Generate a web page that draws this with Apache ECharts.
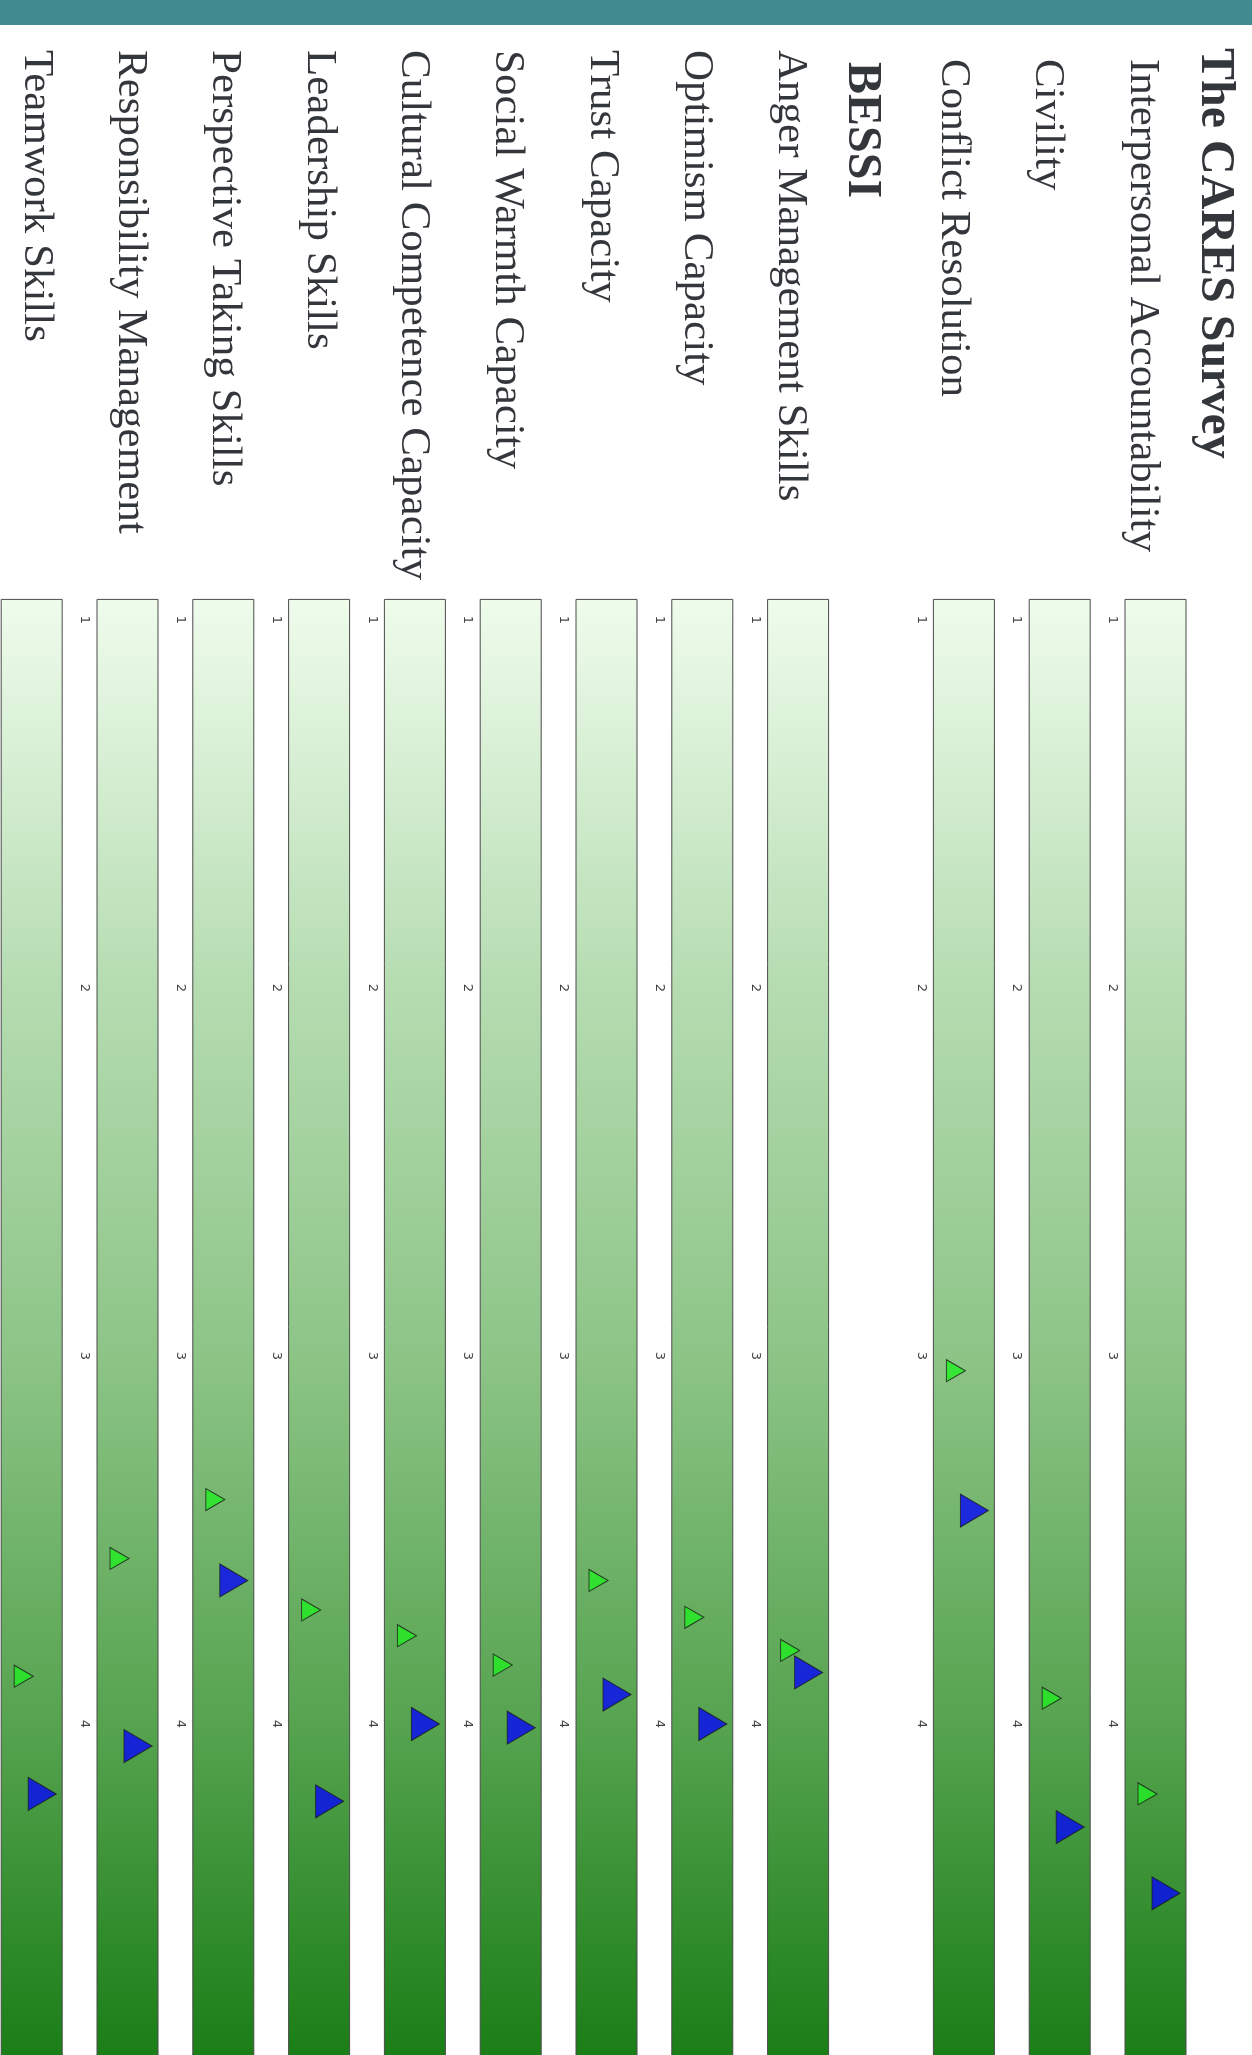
<!DOCTYPE html>
<html>
<head>
<meta charset="utf-8">
<title>CARES / BESSI skill profile</title>
<script src="https://cdn.jsdelivr.net/npm/echarts@6/dist/echarts.min.js"></script>
<style>
  html, body { margin: 0; padding: 0; background: #ffffff; }
  #chart { width: 1252px; height: 2055px; }
</style>
</head>
<body>
<div id="chart"></div>
<script>
// ---- data -------------------------------------------------------------
const groupTitles = ['The CARES Survey', 'BESSI'];

const caresSkills = ['Interpersonal Accountability', 'Civility', 'Conflict Resolution'];
const caresGreen  = [4.19, 3.93, 3.04];   // small green marker
const caresBlue   = [4.46, 4.28, 3.42];   // large blue marker

const bessiSkills = [
  'Anger Management Skills', 'Optimism Capacity', 'Trust Capacity',
  'Social Warmth Capacity', 'Cultural Competence Capacity', 'Leadership Skills',
  'Perspective Taking Skills', 'Responsibility Management', 'Teamwork Skills'
];
const bessiGreen = [3.80, 3.71, 3.61, 3.84, 3.76, 3.69, 3.39, 3.55, 3.87];
const bessiBlue  = [3.86, 4.00, 3.92, 4.01, 4.00, 4.21, 3.61, 4.06, 4.19];

const scaleMin = 1, scaleMax = 5, scaleStep = 1;
const trackStart = 0.944;            // the gradient track begins just before 1

// ---- layout (px) ------------------------------------------------------
const AXIS_TOP = 620;                // y of value 1
const UNIT = 368;                    // px per scale point
const BAR_W = 61;
const PITCH = 95.8;
const GROUP_GAP = 70;
const FIRST_LEFT = 1125;
const HEADER_CENTERS = [1214, 861];
const HEADER_TOPS = [48, 62];        // where each group heading starts
const ITEM_TOPS = [59, 50];          // where the skill names of each group start

const SERIF = "'Liberation Serif', 'DejaVu Serif', serif";

// rows, right (first) to left (last)
const rows = [];
let cursor = FIRST_LEFT;
[[caresSkills, caresGreen, caresBlue], [bessiSkills, bessiGreen, bessiBlue]].forEach((grp, g) => {
  if (g > 0) cursor -= GROUP_GAP;
  rows.push({ label: groupTitles[g], header: true, group: g, left: HEADER_CENTERS[g] - BAR_W / 2 });
  grp[0].forEach((name, i) => {
    rows.push({ label: name, header: false, group: g, left: cursor, green: grp[1][i], blue: grp[2][i] });
    cursor -= PITCH;
  });
});

// the text column runs on a slightly tighter pitch than the tracks
function labelX(r) {
  if (r.header) return r.left + BAR_W / 2;
  const c = r.left + BAR_W / 2;
  return 36 + (c - 31.5) * 0.984;
}

const trackFill = new echarts.graphic.LinearGradient(0, 0, 0, 1, [
  { offset: 0,    color: '#effcec' },
  { offset: 0.26, color: '#b5dcb1' },
  { offset: 0.51, color: '#8cc486' },
  { offset: 0.76, color: '#54a24e' },
  { offset: 1,    color: '#147a10' }
]);

const grid = [], xAxis = [], yAxis = [], series = [], graphic = [];

graphic.push({
  type: 'rect', x: 0, y: 0, silent: true,
  shape: { width: 1252, height: 25 },
  style: { fill: '#408b90' }
});

rows.forEach((r) => {
  graphic.push({
    type: 'text', silent: true,
    x: labelX(r), y: r.header ? HEADER_TOPS[r.group] : ITEM_TOPS[r.group],
    rotation: -Math.PI / 2,
    style: {
      text: r.label,
      fontFamily: SERIF, fontSize: r.header ? 48 : 43,
      fontWeight: r.header ? 'bold' : 'normal',
      fill: '#33363a',
      align: 'left', verticalAlign: 'middle',
      textAlign: 'left', textVerticalAlign: 'middle'
    }
  });
  if (r.header) return;

  const gi = grid.length;
  grid.push({
    left: r.left, top: AXIS_TOP, width: BAR_W, height: UNIT * (scaleMax - scaleMin),
    containLabel: false, outerBoundsMode: 'none'
  });
  xAxis.push({
    gridIndex: gi, type: 'category', data: [r.label], show: false
  });
  yAxis.push({
    gridIndex: gi, type: 'value', inverse: true,
    min: scaleMin, max: scaleMax, interval: scaleStep,
    axisLine: { show: false }, axisTick: { show: false }, splitLine: { show: false },
    axisLabel: {
      rotate: -90, align: 'center', verticalAlign: 'middle', margin: 12.5,
      fontFamily: "'DejaVu Sans', sans-serif", fontSize: 13, color: '#444444',
      showMaxLabel: false
    }
  });

  series.push({
    type: 'custom', xAxisIndex: gi, yAxisIndex: gi, z: 1, silent: true, clip: false,
    data: [[0, trackStart, scaleMax]],
    encode: { x: 0, y: [1, 2] },
    renderItem(params, api) {
      const a = api.coord([api.value(0), api.value(1)]);
      const b = api.coord([api.value(0), api.value(2)]);
      return {
        type: 'rect',
        shape: { x: a[0] - BAR_W / 2, y: a[1], width: BAR_W, height: b[1] - a[1] },
        style: { fill: trackFill, stroke: '#4a4a4a', lineWidth: 1 }
      };
    }
  });
  series.push({
    type: 'scatter', xAxisIndex: gi, yAxisIndex: gi, z: 3, silent: true,
    data: [[0, r.green]],
    symbol: 'triangle', symbolSize: [22, 19], symbolRotate: -90, symbolOffset: [-8, 0],
    itemStyle: { color: '#22ee22', borderColor: '#1a1a1a', borderWidth: 1 }
  });
  series.push({
    type: 'scatter', xAxisIndex: gi, yAxisIndex: gi, z: 4, silent: true,
    data: [[0, r.blue]],
    symbol: 'triangle', symbolSize: [33, 28], symbolRotate: -90, symbolOffset: [10.5, 0],
    itemStyle: { color: '#0606f8', borderColor: '#1a1a1a', borderWidth: 1 }
  });
});

const chart = echarts.init(document.getElementById('chart'), null, { renderer: 'canvas' });
chart.setOption({
  animation: false,
  backgroundColor: '#ffffff',
  grid, xAxis, yAxis, series, graphic
});
</script>
</body>
</html>
